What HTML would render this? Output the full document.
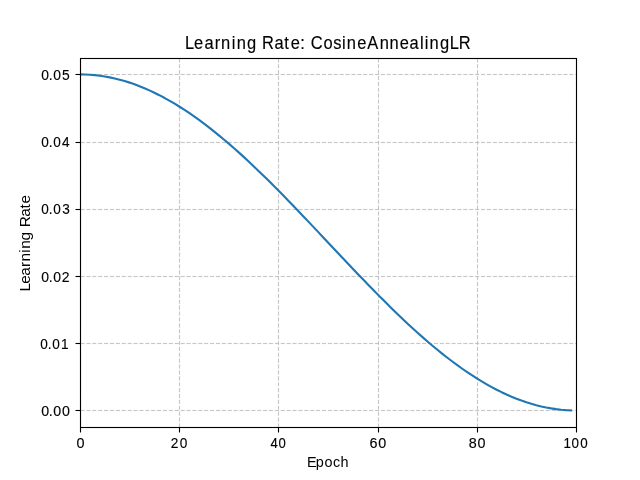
<!DOCTYPE html>
<html><head><meta charset="utf-8"><title>Learning Rate: CosineAnnealingLR</title>
<style>
html,body{margin:0;padding:0;background:#fff;}
body{width:640px;height:480px;overflow:hidden;}
#fig{width:640px;height:480px;will-change:transform;}
svg{display:block;font-family:"Liberation Sans",sans-serif;fill:#000;}
</style></head><body>
<div id="fig">
<svg width="640" height="480" viewBox="0 0 640 480">
<defs><clipPath id="ax"><rect x="80.0" y="57.6" width="496.0" height="369.59999999999997"/></clipPath></defs>
<g clip-path="url(#ax)">
<g stroke="#000" stroke-opacity="0.0157" stroke-width="3" stroke-dasharray="4.1111 1.7778" fill="none">
<line x1="80.5" y1="410.5" x2="576.5" y2="410.5"/>
<line x1="80.5" y1="343.5" x2="576.5" y2="343.5"/>
<line x1="80.5" y1="276.5" x2="576.5" y2="276.5"/>
<line x1="80.5" y1="209.5" x2="576.5" y2="209.5"/>
<line x1="80.5" y1="142.5" x2="576.5" y2="142.5"/>
<line x1="80.5" y1="74.5" x2="576.5" y2="74.5"/>
</g>
<g stroke="#b0b0b0" stroke-opacity="0.71" stroke-width="1.145" stroke-dasharray="4.1111 1.7778" fill="none">
<line x1="80.5" y1="427.5" x2="80.5" y2="58.5"/>
<line x1="179.5" y1="427.5" x2="179.5" y2="58.5"/>
<line x1="278.5" y1="427.5" x2="278.5" y2="58.5"/>
<line x1="378.5" y1="427.5" x2="378.5" y2="58.5"/>
<line x1="477.5" y1="427.5" x2="477.5" y2="58.5"/>
<line x1="576.5" y1="427.5" x2="576.5" y2="58.5"/>
</g>
<g stroke="#b0b0b0" stroke-opacity="0.7" stroke-width="1.11" stroke-dasharray="4.1111 1.7778" fill="none">
<line x1="80.5" y1="410.5" x2="576.5" y2="410.5"/>
<line x1="80.5" y1="343.5" x2="576.5" y2="343.5"/>
<line x1="80.5" y1="276.5" x2="576.5" y2="276.5"/>
<line x1="80.5" y1="209.5" x2="576.5" y2="209.5"/>
<line x1="80.5" y1="142.5" x2="576.5" y2="142.5"/>
<line x1="80.5" y1="74.5" x2="576.5" y2="74.5"/>
</g>
<path d="M80.00,74.40 L84.96,74.48 L89.92,74.73 L94.88,75.15 L99.84,75.73 L104.80,76.47 L109.76,77.38 L114.72,78.45 L119.68,79.68 L124.64,81.07 L129.60,82.62 L134.56,84.33 L139.52,86.20 L144.48,88.22 L149.44,90.39 L154.40,92.72 L159.36,95.19 L164.32,97.80 L169.28,100.56 L174.24,103.46 L179.20,106.49 L184.16,109.66 L189.12,112.96 L194.08,116.39 L199.04,119.94 L204.00,123.62 L208.96,127.41 L213.92,131.31 L218.88,135.33 L223.84,139.45 L228.80,143.67 L233.76,147.99 L238.72,152.40 L243.68,156.90 L248.64,161.49 L253.60,166.15 L258.56,170.89 L263.52,175.70 L268.48,180.58 L273.44,185.52 L278.40,190.51 L283.36,195.56 L288.32,200.65 L293.28,205.78 L298.24,210.95 L303.20,216.15 L308.16,221.38 L313.12,226.63 L318.08,231.89 L323.04,237.16 L328.00,242.44 L332.96,247.72 L337.92,252.99 L342.88,258.26 L347.84,263.50 L352.80,268.73 L357.76,273.93 L362.72,279.10 L367.68,284.23 L372.64,289.32 L377.60,294.37 L382.56,299.36 L387.52,304.30 L392.48,309.18 L397.44,313.99 L402.40,318.73 L407.36,323.40 L412.32,327.98 L417.28,332.48 L422.24,336.89 L427.20,341.21 L432.16,345.44 L437.12,349.56 L442.08,353.57 L447.04,357.47 L452.00,361.26 L456.96,364.94 L461.92,368.49 L466.88,371.92 L471.84,375.22 L476.80,378.39 L481.76,381.43 L486.72,384.32 L491.68,387.08 L496.64,389.70 L501.60,392.17 L506.56,394.49 L511.52,396.66 L516.48,398.68 L521.44,400.55 L526.40,402.26 L531.36,403.81 L536.32,405.20 L541.28,406.44 L546.24,407.51 L551.20,408.41 L556.16,409.16 L561.12,409.74 L566.08,410.15 L571.04,410.40" fill="none" stroke="#1f77b4" stroke-width="2.11" stroke-linejoin="round" stroke-linecap="square"/>
</g>
<g stroke="#000" stroke-width="1.11" fill="none">
<line x1="80.5" y1="427.5" x2="80.5" y2="432.5"/>
<line x1="179.5" y1="427.5" x2="179.5" y2="432.5"/>
<line x1="278.5" y1="427.5" x2="278.5" y2="432.5"/>
<line x1="378.5" y1="427.5" x2="378.5" y2="432.5"/>
<line x1="477.5" y1="427.5" x2="477.5" y2="432.5"/>
<line x1="576.5" y1="427.5" x2="576.5" y2="432.5"/>
<line x1="75.5" y1="410.5" x2="80.5" y2="410.5"/>
<line x1="75.5" y1="343.5" x2="80.5" y2="343.5"/>
<line x1="75.5" y1="276.5" x2="80.5" y2="276.5"/>
<line x1="75.5" y1="209.5" x2="80.5" y2="209.5"/>
<line x1="75.5" y1="142.5" x2="80.5" y2="142.5"/>
<line x1="75.5" y1="74.5" x2="80.5" y2="74.5"/>
</g>
<rect x="80.5" y="58.5" width="496.0" height="369.0" fill="none" stroke="#000" stroke-width="1.11"/>
<g>
<text transform="translate(0,48.80) scale(0.8716,1)" font-size="18.90px" stroke="#000" stroke-width="0.150" stroke-linejoin="round" x="212.23 222.61 234.58 246.50 253.65 265.96 271.49 283.37 293.18 300.58 314.85 326.25 333.54 344.61 354.72 356.45 371.12 382.34 392.26 397.92 409.90 421.45 435.61 446.89 458.59 469.72 481.97 487.39 492.71 504.72 515.95 526.32" y="0">Learning Rate: CosineAnnealingLR</text>
<text transform="translate(0,416.05) scale(0.9242,1)" font-size="15.40px" stroke="#000" stroke-width="0.150" stroke-linejoin="round" x="44.52 52.78 57.54 67.07" y="0">0.00</text>
<text transform="translate(0,348.85) scale(0.8841,1)" font-size="15.40px" stroke="#000" stroke-width="0.150" stroke-linejoin="round" x="45.62 54.14 59.23 69.14" y="0">0.01</text>
<text transform="translate(0,281.65) scale(0.9088,1)" font-size="15.40px" stroke="#000" stroke-width="0.150" stroke-linejoin="round" x="45.36 53.71 58.60 68.00" y="0">0.02</text>
<text transform="translate(0,214.45) scale(0.8828,1)" font-size="15.40px" stroke="#000" stroke-width="0.150" stroke-linejoin="round" x="46.82 55.36 60.45 70.64" y="0">0.03</text>
<text transform="translate(0,147.25) scale(0.8835,1)" font-size="15.40px" stroke="#000" stroke-width="0.150" stroke-linejoin="round" x="46.79 55.32 60.41 70.13" y="0">0.04</text>
<text transform="translate(0,80.05) scale(0.9012,1)" font-size="15.40px" stroke="#000" stroke-width="0.150" stroke-linejoin="round" x="45.78 54.18 59.13 68.73" y="0">0.05</text>
<text transform="translate(0,448.30) scale(0.9808,1)" font-size="14.70px" stroke="#000" stroke-width="0.150" stroke-linejoin="round" x="78.02" y="0">0</text>
<text transform="translate(0,448.30) scale(0.9308,1)" font-size="14.70px" stroke="#000" stroke-width="0.150" stroke-linejoin="round" x="183.38 192.98" y="0">20</text>
<text transform="translate(0,448.30) scale(0.8924,1)" font-size="14.70px" stroke="#000" stroke-width="0.150" stroke-linejoin="round" x="303.16 312.12" y="0">40</text>
<text transform="translate(0,448.30) scale(0.9768,1)" font-size="14.70px" stroke="#000" stroke-width="0.150" stroke-linejoin="round" x="378.24 387.36" y="0">60</text>
<text transform="translate(0,448.30) scale(0.9778,1)" font-size="14.70px" stroke="#000" stroke-width="0.150" stroke-linejoin="round" x="479.38 488.38" y="0">80</text>
<text transform="translate(0,448.30) scale(0.9130,1)" font-size="14.70px" stroke="#000" stroke-width="0.150" stroke-linejoin="round" x="617.30 626.06 635.54" y="0">100</text>
<text transform="translate(0,466.70) scale(0.9627,1)" font-size="15.00px" x="318.88 328.09 337.15 345.80 353.61" y="0">Epoch</text>
<text transform="translate(29.70,291.00) rotate(-90) scale(1.0009,1)" font-size="15.40px" x="-0.47 7.23 15.17 23.95 29.50 38.31 42.22 50.45 58.07 63.63 74.08 82.47 87.47" y="0">Learning Rate</text>
</g>
</svg>
</div>
</body></html>
